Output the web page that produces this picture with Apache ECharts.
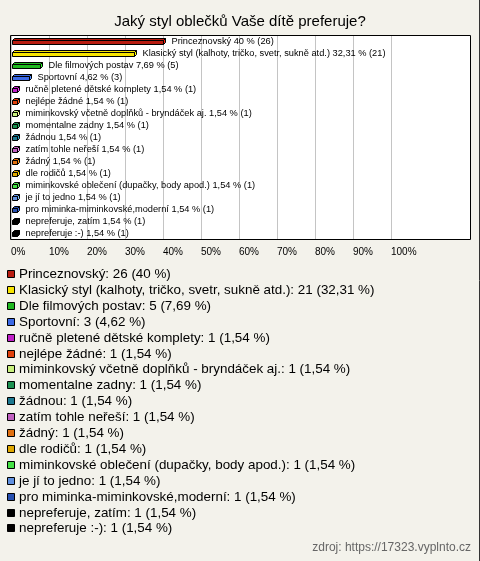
<!DOCTYPE html>
<html>
<head>
<meta charset="utf-8">
<script src="https://cdn.jsdelivr.net/npm/echarts@6/dist/echarts.min.js"></script>
<style>html,body{margin:0;padding:0;background:#f3f2eb}#c{width:480px;height:561px}</style>
</head>
<body>
<div id="c"></div>
<script>
const titleText = 'Jaký styl oblečků Vaše dítě preferuje?';
const categories = [
  'Princeznovský',
  'Klasický styl (kalhoty, tričko, svetr, sukně atd.)',
  'Dle filmových postav',
  'Sportovní',
  'ručně pletené dětské komplety',
  'nejlépe žádné',
  'miminkovský včetně doplňků - bryndáček aj.',
  'momentalne zadny',
  'žádnou',
  'zatím tohle neřeší',
  'žádný',
  'dle rodičů',
  'miminkovské oblečení (dupačky, body apod.)',
  'je jí to jedno',
  'pro miminka-miminkovské,moderní',
  'nepreferuje, zatím',
  'nepreferuje :-)'
];
const counts = [26, 21, 5, 3, 1, 1, 1, 1, 1, 1, 1, 1, 1, 1, 1, 1, 1];
const percents = [40, 32.31, 7.69, 4.62, 1.54, 1.54, 1.54, 1.54, 1.54, 1.54, 1.54, 1.54, 1.54, 1.54, 1.54, 1.54, 1.54];
const colors = ['#b81c10', '#f7e400', '#20b820', '#3c6ae6', '#c020c8', '#e0400c', '#c8f07c', '#1c9050', '#1c7890', '#c060c0', '#e07010', '#e0a800', '#44e044', '#6090e0', '#2850b0', '#000000', '#000000'];
const xTicks = [0, 10, 20, 30, 40, 50, 60, 70, 80, 90, 100];
const sourceText = 'zdroj: https://17323.vyplnto.cz';

function fmt(p) { return String(p).replace('.', ','); }

const FONT = '"Liberation Sans", Arial, sans-serif';
const chart = echarts.init(document.getElementById('c'), null, {renderer: 'canvas'});

const legendGraphics = [];
categories.forEach((name, i) => {
  const y = 274 + i * 15.9;
  legendGraphics.push({
    type: 'rect', shape: {x: 7.5, y: Math.round(y) - 3.5, width: 7, height: 7},
    style: {fill: colors[i], stroke: '#000', lineWidth: 1}
  });
  legendGraphics.push({
    type: 'text', x: 19, y: Math.round(y) + 0.5,
    style: {text: name + ': ' + counts[i] + ' (' + fmt(percents[i]) + ' %)', font: '13.4px ' + FONT, fill: '#000', verticalAlign: 'middle', align: 'left'}
  });
});

const option = {
  backgroundColor: '#f3f2eb',
  animation: false,
  title: {
    text: titleText, left: 'center', top: 9,
    textStyle: {fontFamily: FONT, fontSize: 15, fontWeight: 'normal', color: '#000'}
  },
  grid: {left: 11, top: 35, width: 380, height: 204, containLabel: false},
  xAxis: {
    type: 'value', min: 0, max: 100, interval: 10,
    axisLine: {show: false}, axisTick: {show: false},
    splitLine: {show: true, lineStyle: {color: '#c4c4c4', width: 1}},
    axisLabel: {
      align: 'left', margin: 8, fontFamily: FONT, fontSize: 10, color: '#000',
      formatter: v => xTicks.indexOf(v) >= 0 ? v + '%' : ''
    }
  },
  yAxis: {
    type: 'category', data: categories, inverse: true,
    axisLine: {show: false}, axisTick: {show: false}, axisLabel: {show: false}, splitLine: {show: false}
  },
  graphic: [
    {type: 'rect', z: -10, shape: {x: 11.5, y: 35.5, width: 459, height: 204}, style: {fill: '#ffffff', stroke: 'none'}, silent: true},
    {type: 'rect', z: 100, shape: {x: 10.5, y: 35.5, width: 460, height: 204}, style: {fill: 'none', stroke: '#000', lineWidth: 1}, silent: true},
    {type: 'line', shape: {x1: 479.5, y1: 0, x2: 479.5, y2: 561}, style: {stroke: '#333', lineWidth: 1}},
    ...legendGraphics,
    {type: 'text', right: 9, top: 542, style: {text: sourceText, font: '12px ' + FONT, fill: '#666'}}
  ],
  series: [{
    type: 'custom',
    clip: false,
    data: percents.map((p, i) => [p, i]),
    encode: {x: 0, y: 1},
    renderItem: function (params, api) {
      const i = api.value(1);
      const s = api.coord([0, i]);
      const e = api.coord([api.value(0), i]);
      const x0 = Math.round(s[0]) + 1.5, x1 = Math.round(e[0]) + 0.5;
      const cy = Math.round(s[1]) + 0.5;
      const d = 2;
      const col = colors[i];
      const dark = echarts.color.lift(col, -0.35);
      return {
        type: 'group',
        children: [
          {type: 'polygon', shape: {points: [[x0, cy - 1], [x0 + d, cy - 3], [x1 + d, cy - 3], [x1, cy - 1]]}, style: {fill: col, stroke: '#000', lineWidth: 1}},
          {type: 'polygon', shape: {points: [[x1, cy - 1], [x1 + d, cy - 3], [x1 + d, cy + 1], [x1, cy + 3]]}, style: {fill: dark, stroke: '#000', lineWidth: 1}},
          {type: 'rect', shape: {x: x0, y: cy - 1, width: x1 - x0, height: 4}, style: {fill: col, stroke: '#000', lineWidth: 1}},
          {type: 'text', x: x1 + d + 6, y: cy, style: {text: categories[i] + ' ' + fmt(percents[i]) + ' % (' + counts[i] + ')', font: '9.25px ' + FONT, fill: '#000', verticalAlign: 'middle', align: 'left'}}
        ]
      };
    }
  }]
};
chart.setOption(option);
</script>
</body>
</html>
